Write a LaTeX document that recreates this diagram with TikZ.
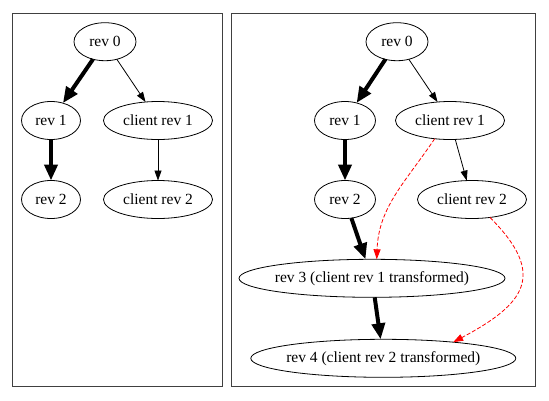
\documentclass[tikz,border=0pt]{standalone}
\usepackage{fontspec}
\setmainfont{Liberation Serif}
\usetikzlibrary{arrows.meta,shapes.geometric}

\begin{document}
\begin{tikzpicture}[x=1pt, y=-1pt,
        rev/.style={draw, ellipse, line width=0.8pt, inner xsep=-4pt, inner ysep=0pt, outer sep=0pt,
            minimum height=38pt, font=\fontsize{15.5}{17}\selectfont},
        mainline/.style={line width=4pt, -{Triangle[length=16pt, width=13pt]}},
        clientline/.style={line width=0.8pt, -{Triangle[length=10pt, width=7pt]}},
        transform/.style={red, line width=0.8pt, dash pattern=on 4pt off 2pt,
            -{Triangle[length=10pt, width=7pt]}}]
        \useasboundingbox (0,0) rectangle (549,400);
        \draw[black!75, line width=1pt] (12.5,13.5) rectangle (222.5,386.5);
        \draw[black!75, line width=1pt] (231,13.5) rectangle (535.5,386.5);

        \node[rev, minimum width=62pt]  (lrev0) at (105,41.7)  {rev 0};
        \node[rev, minimum width=59pt]  (lrev1) at (51,120.5)  {rev 1};
        \node[rev, minimum width=109pt] (lcli1) at (158,120.5) {client rev 1};
        \node[rev, minimum width=59pt]  (lrev2) at (51,199.5)  {rev 2};
        \node[rev, minimum width=109pt] (lcli2) at (158,199.5) {client rev 2};

        \draw[mainline]   (lrev0) -- (lrev1);
        \draw[mainline]   (lrev1) -- (lrev2);
        \draw[clientline] (lrev0) -- (lcli1);
        \draw[clientline] (lcli1) -- (lcli2);

        \node[rev, minimum width=62pt]  (rrev0) at (397,41.7)   {rev 0};
        \node[rev, minimum width=61pt]  (rrev1) at (345,120.5)  {rev 1};
        \node[rev, minimum width=109pt] (rcli1) at (450,120.5)  {client rev 1};
        \node[rev, minimum width=61pt]  (rrev2) at (345,199.5)  {rev 2};
        \node[rev, minimum width=109pt] (rcli2) at (472,199.5)  {client rev 2};
        \node[rev, minimum width=266pt] (rrev3) at (372,278.3)  {rev 3 (client rev 1 transformed)};
        \node[rev, minimum width=265pt] (rrev4) at (383.3,358.3) {rev 4 (client rev 2 transformed)};

        \draw[mainline]   (rrev0) -- (rrev1);
        \draw[mainline]   (rrev1) -- (rrev2);
        \draw[mainline]   (rrev2) -- (rrev3);
        \draw[mainline]   (rrev3) -- (rrev4);
        \draw[clientline] (rrev0) -- (rcli1);
        \draw[clientline] (rcli1) -- (rcli2);
        \draw[transform]  (rcli1.230) to[out=236, in=88] (rrev3.76);
        \draw[transform]  (rcli2.-45) to[out=-45, in=28, looseness=1.6] (rrev4.13);
\end{tikzpicture}
\end{document}
